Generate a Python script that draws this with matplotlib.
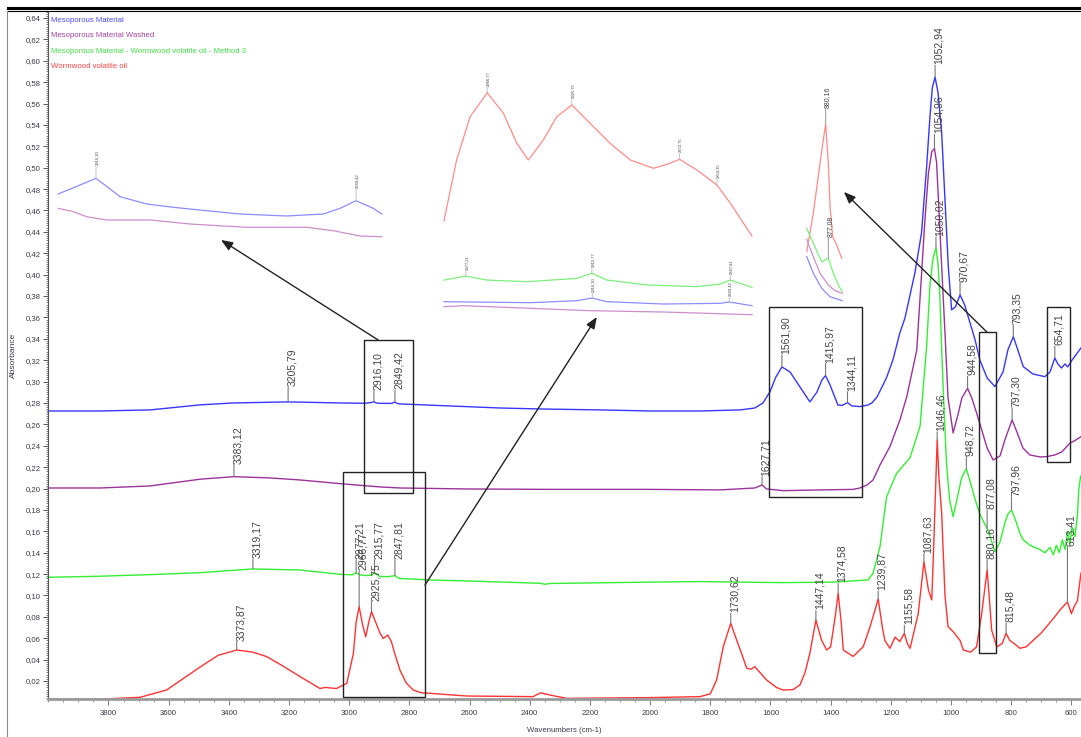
import numpy as np
import matplotlib
matplotlib.use("Agg")
import matplotlib.pyplot as plt
from matplotlib import font_manager as fm
from matplotlib.patches import Rectangle
from matplotlib.lines import Line2D
from matplotlib.ticker import MultipleLocator, FixedLocator, FuncFormatter


def has_font(name):
    try:
        fm.findfont(fm.FontProperties(family=name), fallback_to_default=False)
        return True
    except Exception:
        return False


NARROW_OK = has_font("Liberation Sans Narrow")
NARROW = "Liberation Sans Narrow" if NARROW_OK else "Liberation Sans"
SMALL = 6.5 if NARROW_OK else 5.6
plt.rcParams["font.family"] = ["Liberation Sans", "DejaVu Sans"]

# ---------------- data (wavenumber cm-1, absorbance) ----------------
series_names = ["Mesoporous Material", "Mesoporous Material Washed",
                "Mesoporous Material - Wormwood volatile oil - Method 3",
                "Wormwood volatile oil"]

blue_wn = [4001, 3828, 3662, 3496, 3386, 3203, 3031, 2948, 2925, 2918, 2910, 2898, 2860, 2848, 2840,
           2831, 2665, 2499, 2366, 2167, 2001, 1834, 1701, 1652, 1625, 1602, 1582, 1562, 1535, 1502,
           1469, 1446, 1429, 1417, 1402, 1376, 1362, 1344, 1329, 1303, 1276, 1263, 1246, 1226, 1213,
           1193, 1170, 1153, 1120, 1098, 1081, 1070, 1062, 1053, 1043, 1031, 1020, 1009, 998, 985,
           970, 955, 943, 920, 904, 880, 854, 827, 811, 793, 778, 760, 728, 688, 671, 655, 645, 633,
           621, 612, 598, 585, 568]
blue_abs = [0.2725, 0.2725, 0.2735, 0.2782, 0.2800, 0.2810, 0.2800, 0.2797, 0.2805, 0.2812, 0.2800,
            0.2797, 0.2796, 0.2808, 0.2795, 0.2791, 0.2772, 0.2753, 0.2744, 0.2735, 0.2725, 0.2725,
            0.2735, 0.2753, 0.2800, 0.2903, 0.3043, 0.3137, 0.3090, 0.2950, 0.2810, 0.2900, 0.3015,
            0.3056, 0.2968, 0.2781, 0.2777, 0.2803, 0.2772, 0.2766, 0.2781, 0.2800, 0.2856, 0.2968,
            0.3046, 0.3203, 0.3455, 0.3595, 0.4016, 0.4390, 0.5010, 0.5477, 0.5750, 0.5846, 0.5700,
            0.5325, 0.4698, 0.4075, 0.3670, 0.3700, 0.3810, 0.3720, 0.3607, 0.3390, 0.3200, 0.3034,
            0.2953, 0.3090, 0.3296, 0.3420, 0.3296, 0.3140, 0.3071, 0.3046, 0.3090, 0.3220, 0.3165,
            0.3127, 0.3165, 0.3137, 0.3200, 0.3249, 0.3315]

purple_wn = [4001, 3828, 3662, 3496, 3383, 3263, 3163, 3020, 2898, 2831, 2610, 2333, 2001, 1768, 1652,
             1628, 1613, 1558, 1429, 1325, 1303, 1279, 1259, 1236, 1203, 1170, 1147, 1114, 1098, 1087,
             1075, 1064, 1055, 1048, 1040, 1031, 1020, 1010, 993, 977, 964, 945, 931, 915, 898, 880,
             860, 837, 821, 797, 781, 761, 738, 704, 682, 655, 632, 605, 585, 568]
purple_abs = [0.2005, 0.2005, 0.2024, 0.2087, 0.2111, 0.2099, 0.2080, 0.2043, 0.2015, 0.2005, 0.1996,
              0.1992, 0.1992, 0.1987, 0.2005, 0.2033, 0.1996, 0.1980, 0.1987, 0.1992, 0.2005, 0.2033,
              0.2080, 0.2220, 0.2392, 0.2640, 0.2859, 0.3292, 0.4000, 0.4500, 0.4950, 0.5150, 0.5180,
              0.5050, 0.4600, 0.4075, 0.3455, 0.2850, 0.2520, 0.2688, 0.2847, 0.2937, 0.2847, 0.2707,
              0.2548, 0.2379, 0.2267, 0.2305, 0.2454, 0.2641, 0.2529, 0.2379, 0.2314, 0.2295, 0.2298,
              0.2314, 0.2342, 0.2423, 0.2454, 0.2485]

green_wn = [4001, 3828, 3662, 3496, 3386, 3320, 3163, 3031, 2990, 2977, 2964, 2945, 2925, 2916, 2898,
            2870, 2848, 2835, 2732, 2610, 2366, 2350, 2333, 2001, 1834, 1701, 1558, 1391, 1276, 1259,
            1236, 1214, 1181, 1136, 1103, 1081, 1070, 1060, 1050, 1043, 1037, 1031, 1024, 1015, 1005,
            993, 980, 965, 949, 935, 920, 904, 890, 880, 870, 860, 854, 837, 821, 811, 799, 785, 771,
            760, 738, 727, 704, 688, 671, 660, 650, 640, 630, 621, 612, 605, 598, 588, 580, 575, 570,
            568]
green_abs = [0.1170, 0.1180, 0.1195, 0.1213, 0.1235, 0.1248, 0.1238, 0.1198, 0.1193, 0.1213, 0.1192,
             0.1186, 0.1190, 0.1213, 0.1178, 0.1176, 0.1185, 0.1160, 0.1145, 0.1136, 0.1114, 0.1105,
             0.1112, 0.1125, 0.1130, 0.1125, 0.1120, 0.1125, 0.1145, 0.1207, 0.1456, 0.1924, 0.2140,
             0.2290, 0.2580, 0.3327, 0.3900, 0.4150, 0.4250, 0.4100, 0.3800, 0.3300, 0.2800, 0.2236,
             0.1900, 0.1737, 0.1900, 0.2100, 0.2186, 0.2050, 0.1900, 0.1760, 0.1680, 0.1628, 0.1550,
             0.1460, 0.1410, 0.1500, 0.1680, 0.1760, 0.1800, 0.1700, 0.1580, 0.1520, 0.1470, 0.1456,
             0.1430, 0.1400, 0.1450, 0.1380, 0.1470, 0.1400, 0.1520, 0.1430, 0.1600, 0.1480, 0.1640,
             0.1550, 0.1750, 0.2000, 0.2100, 0.2120]

red_wn = [4001, 3828, 3695, 3607, 3496, 3436, 3374, 3320, 3274, 3220, 3163, 3097, 3080, 3042, 3020,
          3008, 2986, 2977, 2967, 2955, 2945, 2935, 2926, 2912, 2898, 2887, 2872, 2860, 2848, 2831,
          2810, 2787, 2760, 2732, 2610, 2389, 2364, 2333, 2277, 2001, 1834, 1800, 1779, 1757, 1732,
          1712, 1695, 1679, 1665, 1652, 1632, 1613, 1580, 1558, 1525, 1502, 1485, 1469, 1449, 1430,
          1413, 1400, 1385, 1375, 1365, 1358, 1325, 1292, 1269, 1242, 1228, 1220, 1203, 1186, 1170,
          1155, 1145, 1136, 1109, 1090, 1075, 1064, 1057, 1046, 1040, 1031, 1020, 1010, 993, 970,
          959, 935, 915, 898, 880, 872, 865, 848, 830, 817, 805, 790, 771, 750, 727, 700, 670, 650,
          638, 613, 600, 590, 580, 568]
red_abs = [0.0030, 0.0030, 0.0048, 0.0116, 0.0330, 0.0440, 0.0490, 0.0470, 0.0428, 0.0340, 0.0241,
           0.0130, 0.0140, 0.0130, 0.0163, 0.0178, 0.0460, 0.0750, 0.0895, 0.0720, 0.0614, 0.0750,
           0.0849, 0.0750, 0.0650, 0.0598, 0.0630, 0.0570, 0.0450, 0.0300, 0.0180, 0.0116, 0.0090,
           0.0085, 0.0060, 0.0054, 0.0090, 0.0069, 0.0038, 0.0045, 0.0054, 0.0080, 0.0209, 0.0520,
           0.0740, 0.0580, 0.0450, 0.0320, 0.0310, 0.0334, 0.0270, 0.0210, 0.0140, 0.0116, 0.0120,
           0.0163, 0.0280, 0.0460, 0.0770, 0.0580, 0.0490, 0.0520, 0.0800, 0.1020, 0.0750, 0.0490,
           0.0430, 0.0520, 0.0708, 0.0967, 0.0700, 0.0580, 0.0506, 0.0610, 0.0570, 0.0646, 0.0550,
           0.0506, 0.0830, 0.1316, 0.1050, 0.0958, 0.1500, 0.2454, 0.2100, 0.1769, 0.1000, 0.0710,
           0.0662, 0.0580, 0.0490, 0.0470, 0.0520, 0.0830, 0.1238, 0.0950, 0.0677, 0.0520, 0.0550,
           0.0646, 0.0580, 0.0550, 0.0506, 0.0520, 0.0580, 0.0650, 0.0750, 0.0820, 0.0864, 0.0940,
           0.0830, 0.0900, 0.0950, 0.1210]

# peak labels: (text, wavenumber, tick length in px)
blue_labels = [("3205,79", 3203, 15), ("2916,10", 2918, 11), ("2849,42", 2848, 12),
               ("1561,90", 1562, 12), ("1415,97", 1417, 12), ("1344,11", 1344, 11),
               ("1052,94", 1053, 12), ("970,67", 970, 12), ("793,35", 793, 12), ("654,71", 655, 12)]
purple_labels = [("3383,12", 3383, 12), ("1627,71", 1628, 8), ("1054,96", 1055, 14),
                 ("944,58", 945, 12), ("797,30", 797, 12)]
green_labels = [("3319,17", 3320, 10), ("2977,21", 2977, 13), ("2915,77", 2916, 13),
                ("2847,81", 2848, 16), ("1050,02", 1050, 11), ("948,72", 949, 12),
                ("877,08", 880, 18), ("797,96", 799, 13)]
red_labels = [("3373,87", 3374, 8), ("2966,77", 2967, 36), ("2925,75", 2926, 10),
              ("1730,62", 1732, 10), ("1447,14", 1449, 10), ("1374,58", 1375, 10),
              ("1239,87", 1242, 8), ("1155,58", 1155, 8), ("1087,63", 1090, 8),
              ("1046,46", 1046, 8), ("880,16", 880, 10), ("815,48", 817, 10), ("613,41", 613, 55)]

# boxes: (wn_high, wn_low, abs_low, abs_high)
boxes = [(2951, 2788, 0.1958, 0.3389), (3021, 2748, 0.0050, 0.2155), (1604, 1297, 0.1924, 0.3695),
         (906, 851, 0.0460, 0.3460), (682, 605, 0.2251, 0.3695)]
# arrows: (tail wn, tail abs, head wn, head abs)
arrows = [(2904, 0.3389, 3426, 0.4324), (2748, 0.1098, 2177, 0.3604), (881, 0.3464, 1356, 0.4773)]

# ---- insets (relative height 0..1 inside each inset box) ----
in1_blue_wn = [2925.8, 2920.2, 2916.1, 2909.9, 2903.1, 2896.3, 2887.7, 2879.2, 2867.2, 2857.8, 2853.5,
               2849.4, 2845.0, 2842.8]
in1_blue_r = [0.575, 0.6875, 0.771, 0.541, 0.45, 0.409, 0.366, 0.325, 0.30, 0.325, 0.396, 0.491,
              0.396, 0.325]
in1_purple_wn = [2925.8, 2921.9, 2918.5, 2913.4, 2902.2, 2892.0, 2883.4, 2877.4, 2862.1, 2855.2,
                 2848.4, 2842.8]
in1_purple_r = [0.396, 0.354, 0.291, 0.25, 0.25, 0.20, 0.175, 0.159, 0.159, 0.116, 0.05, 0.041]
in1_labels = [("2916,10", 2916.1, 12), ("2849,42", 2849.4, 12)]

in2_red_wn = [2987.7, 2981.6, 2975.1, 2966.8, 2959.0, 2952.5, 2946.9, 2939.7, 2933.2, 2925.9, 2917.1,
              2907.4, 2897.7, 2886.4, 2878.4, 2873.8, 2865.4, 2855.7, 2849.3, 2838.8]
in2_red_r = [0.4226, 0.681, 0.865, 0.967, 0.88, 0.752, 0.681, 0.766, 0.865, 0.915, 0.837, 0.752,
             0.681, 0.6455, 0.667, 0.684, 0.638, 0.574, 0.497, 0.357]
in2_green_wn = [2987.7, 2977.1, 2967.1, 2947.7, 2923.5, 2916.2, 2909.0, 2889.6, 2865.4, 2854.1,
                2849.3, 2838.8]
in2_green_r = [0.170, 0.187, 0.170, 0.163, 0.177, 0.199, 0.170, 0.149, 0.142, 0.153, 0.170, 0.139]
in2_blue_wn = [2987.7, 2946.0, 2923.5, 2916.0, 2909.0, 2881.6, 2854.1, 2849.8, 2838.8]
in2_blue_r = [0.0779, 0.0736, 0.0821, 0.0936, 0.0779, 0.068, 0.071, 0.0766, 0.0609]
in2_purple_wn = [2987.7, 2978.4, 2946.0, 2917.1, 2881.6, 2838.8]
in2_purple_r = [0.0566, 0.0609, 0.0498, 0.0396, 0.034, 0.0226]
in2_red_labels = [("2966,77", 2966.8, 6), ("2925,75", 2925.9, 6), ("2872,75", 2873.8, 6),
                  ("2854,35", 2855.7, 6)]
in2_green_labels = [("2977,21", 2977.1, 5), ("2915,77", 2916.2, 5), ("2847,81", 2849.3, 5)]
in2_blue_labels = [("2916,10", 2916.0, 5), ("2849,42", 2849.8, 5)]

in3_red_wn = [902.6, 894.8, 886.9, 880.2, 877.1, 875.1, 871.9, 867.2, 861.3]
in3_red_r = [0.26, 0.447, 0.691, 0.886, 0.691, 0.48, 0.333, 0.293, 0.228]
in3_green_wn = [902.6, 894.8, 884.9, 877.1, 871.2, 865.3, 860.6]
in3_green_r = [0.374, 0.301, 0.211, 0.228, 0.155, 0.0976, 0.0649]
in3_purple_wn = [902.6, 894.8, 886.9, 877.1, 869.2, 860.6]
in3_purple_r = [0.32, 0.236, 0.155, 0.0976, 0.0698, 0.057]
in3_blue_wn = [902.6, 894.8, 884.9, 875.1, 860.6]
in3_blue_r = [0.236, 0.155, 0.0815, 0.0405, 0.021]
in3_labels_red = [("880,16", 880.2, 14)]
in3_labels_green = [("877,08", 877.1, 20)]

# ---------------- styles ----------------
C_BLUE, C_PURPLE, C_GREEN, C_RED = "#3636ff", "#993399", "#33ee33", "#ff3333"
L_BLUE, L_PURPLE, L_GREEN, L_RED = "#8c8cff", "#cc8fcc", "#7cee7c", "#ff8c8c"
TXT = "#444444"
TICKC = "#777777"

W, H = 1081, 737
fig = plt.figure(figsize=(W / 100, H / 100), dpi=100)
fig.patch.set_facecolor("white")


def fx(px):
    return px / W


def fy(py):
    return 1 - py / H


ax = fig.add_axes([fx(48), fy(699), fx(1081) - fx(48), fy(11) - fy(699)])
ax.set_xlim(4001, 568)
ax.set_ylim(0.0032, 0.6465)
ax.patch.set_alpha(0)

for wn, ab, c in [(blue_wn, blue_abs, C_BLUE), (purple_wn, purple_abs, C_PURPLE),
                  (green_wn, green_abs, C_GREEN), (red_wn, red_abs, C_RED)]:
    ax.plot(wn, ab, color=c, lw=1.0, solid_joinstyle="round", clip_on=False)


def label_peaks(axis, wn_arr, y_arr, labels, fontsize, dx=4, lw=0.8, tcol=TICKC):
    xs = np.asarray(wn_arr, float)[::-1]
    ys = np.asarray(y_arr, float)[::-1]
    for text, w, L in labels:
        yv = float(np.interp(w, xs, ys))
        axis.annotate("", xy=(w, yv), xytext=(0, L), textcoords="offset pixels",
                      arrowprops=dict(arrowstyle="-", color=tcol, lw=lw, shrinkA=0, shrinkB=0),
                      annotation_clip=False)
        axis.annotate(text, xy=(w, yv), xytext=(dx, L + 1), textcoords="offset pixels",
                      rotation=90, ha="center", va="bottom", fontsize=fontsize, color=TXT,
                      annotation_clip=False)


label_peaks(ax, blue_wn, blue_abs, blue_labels, 7.5)
label_peaks(ax, purple_wn, purple_abs, purple_labels, 7.5)
label_peaks(ax, green_wn, green_abs, green_labels, 7.5)
label_peaks(ax, red_wn, red_abs, red_labels, 7.5)

for hi, lo, ylo, yhi in boxes:
    ax.add_patch(Rectangle((lo, ylo), hi - lo, yhi - ylo, fill=False, edgecolor="#222222",
                           lw=1.0, clip_on=False, zorder=5))

for tx, ty, hx, hy in arrows:
    ax.annotate("", xy=(hx, hy), xytext=(tx, ty),
                arrowprops=dict(arrowstyle="-|>,head_length=0.7,head_width=0.28",
                                color="#222222", lw=1.0, shrinkA=0, shrinkB=0),
                annotation_clip=False, zorder=6)

# axes styling
for s in ["top", "right"]:
    ax.spines[s].set_visible(False)
ax.spines["left"].set_color("#555555")
ax.spines["left"].set_linewidth(0.8)
ax.spines["bottom"].set_color("#9a9a9a")
ax.spines["bottom"].set_linewidth(2.0)

ax.yaxis.set_major_locator(FixedLocator(np.round(np.arange(0.02, 0.641, 0.02), 2)))
ax.yaxis.set_minor_locator(MultipleLocator(0.002))
ax.yaxis.set_major_formatter(FuncFormatter(lambda v, p: f"{v:.2f}".replace(".", ",")))
ax.xaxis.set_major_locator(FixedLocator(list(range(600, 3801, 200))))
ax.xaxis.set_minor_locator(MultipleLocator(50))
ax.xaxis.set_major_formatter(FuncFormatter(lambda v, p: f"{int(round(v))}"))
ax.tick_params(axis="y", which="major", length=3.5, width=0.7, color="#555555", pad=1.5,
               labelsize=SMALL, labelcolor="#3a3a4a")
ax.tick_params(axis="y", which="minor", length=1.6, width=0.6, color="#666666")
ax.tick_params(axis="x", which="major", length=4, width=0.7, color="#777777", pad=4,
               labelsize=SMALL, labelcolor="#3a3a4a")
ax.tick_params(axis="x", which="minor", length=2, width=0.6, color="#888888")
for lab in ax.get_xticklabels() + ax.get_yticklabels():
    lab.set_family([NARROW, "DejaVu Sans"])

fig.text(fx(564), fy(730), "Wavenumbers (cm-1)", ha="center", va="center", fontsize=SMALL,
         color="#3a3a4a", family=[NARROW, "DejaVu Sans"])
fig.text(fx(13), fy(355), "Absorbance", ha="center", va="center", rotation=90, fontsize=SMALL + 0.5,
         color="#3a3a4a", family=[NARROW, "DejaVu Sans"])

# legend-like labels
for i, (name, c) in enumerate(zip(series_names, ["#4a4aff", "#a040a0", "#44dd44", "#ff4444"])):
    fig.text(fx(51), fy(20.5 + i * 15.3), name, ha="left", va="center", fontsize=SMALL,
             color=c, family=[NARROW, "DejaVu Sans"])

# frame decorations
fig.add_artist(Line2D([fx(8), 1], [fy(7.5), fy(7.5)], color="black", lw=2.2))
fig.add_artist(Line2D([fx(8), 1], [fy(10.5), fy(10.5)], color="black", lw=0.8))
fig.add_artist(Line2D([fx(7), fx(7)], [fy(11), 0], color="#8a8a8a", lw=0.8))

# ---------------- insets ----------------
in1 = fig.add_axes([fx(58), fy(240), fx(383) - fx(58), fy(160) - fy(240)])
in1.set_xlim(2925.85, 2842.5)
in1.set_ylim(0, 1)
in1.axis("off")
in1.plot(in1_blue_wn, in1_blue_r, color=L_BLUE, lw=0.9, clip_on=False)
in1.plot(in1_purple_wn, in1_purple_r, color=L_PURPLE, lw=0.9, clip_on=False)
label_peaks(in1, in1_blue_wn, in1_blue_r, in1_labels, 3, dx=1, lw=0.6, tcol="#bbbbbb")

in2 = fig.add_axes([fx(444), fy(320), fx(752) - fx(444), fy(85) - fy(320)])
in2.set_xlim(2987.7, 2838.8)
in2.set_ylim(0, 1)
in2.axis("off")
in2.plot(in2_red_wn, in2_red_r, color=L_RED, lw=0.9, clip_on=False, solid_joinstyle="round")
in2.plot(in2_green_wn, in2_green_r, color=L_GREEN, lw=0.9, clip_on=False)
in2.plot(in2_blue_wn, in2_blue_r, color=L_BLUE, lw=0.9, clip_on=False)
in2.plot(in2_purple_wn, in2_purple_r, color=L_PURPLE, lw=0.9, clip_on=False)
label_peaks(in2, in2_red_wn, in2_red_r, in2_red_labels, 3, dx=1, lw=0.6, tcol="#bbbbbb")
label_peaks(in2, in2_green_wn, in2_green_r, in2_green_labels, 3, dx=1, lw=0.6, tcol="#bbbbbb")
label_peaks(in2, in2_blue_wn, in2_blue_r, in2_blue_labels, 3, dx=1, lw=0.6, tcol="#bbbbbb")

in3 = fig.add_axes([fx(805), fy(305), fx(845) - fx(805), fy(100) - fy(305)])
in3.set_xlim(904.6, 857.4)
in3.set_ylim(0, 1)
in3.axis("off")
in3.plot(in3_red_wn, in3_red_r, color=L_RED, lw=0.9, clip_on=False)
in3.plot(in3_green_wn, in3_green_r, color=L_GREEN, lw=0.9, clip_on=False)
in3.plot(in3_purple_wn, in3_purple_r, color=L_PURPLE, lw=0.9, clip_on=False)
in3.plot(in3_blue_wn, in3_blue_r, color=L_BLUE, lw=0.9, clip_on=False)
label_peaks(in3, in3_red_wn, in3_red_r, in3_labels_red, 5, dx=2, lw=0.7, tcol="#999999")
label_peaks(in3, in3_green_wn, in3_green_r, in3_labels_green, 5, dx=2, lw=0.7, tcol="#999999")

fig.savefig("out.png", dpi=100, facecolor="white")
